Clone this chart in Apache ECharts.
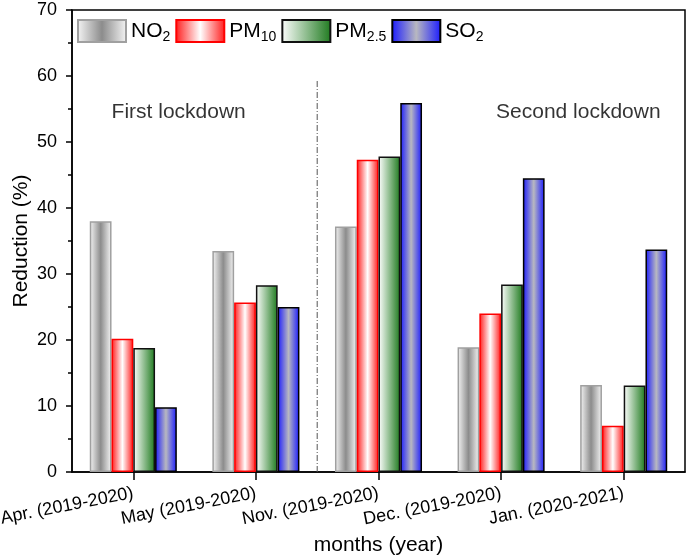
<!DOCTYPE html>
<html><head><meta charset="utf-8">
<script src="https://cdn.jsdelivr.net/npm/echarts@6/dist/echarts.min.js"></script>
<style>html,body{margin:0;padding:0;background:#fff}#c{width:696px;height:560px}</style>
</head><body><div id="c"></div>
<script>
const categories = ['Apr. (2019-2020)','May (2019-2020)','Nov. (2019-2020)','Dec. (2019-2020)','Jan. (2020-2021)'];
const no2 = [38.0, 33.5, 37.2, 18.9, 13.2];
const pm10 = [20.2, 25.7, 47.3, 24.0, 7.0];
const pm25 = [18.8, 28.3, 47.8, 28.4, 13.1];
const so2 = [9.8, 25.0, 55.9, 44.5, 33.7];
const yTicks = [0,10,20,30,40,50,60,70];
const dividerLine = [[2,0],[2,59.5]];
const annotations = [{name:'First lockdown', value:[0.87,54.5]},{name:'Second lockdown', value:[4.13,54.5]}];

const font = 'Liberation Sans, Arial, sans-serif';
const G = echarts.graphic.LinearGradient;
const styles = {
  NO2: {color: new G(0,0,1,0,[{offset:0,color:'#f6f6f6'},{offset:0.5,color:'#8c8c8c'},{offset:1,color:'#f6f6f6'}]), borderColor:'#a0a0a0', borderWidth:1.5},
  PM10:{color: new G(0,0,1,0,[{offset:0,color:'#ff1a1a'},{offset:0.5,color:'#ffffff'},{offset:1,color:'#ff1a1a'}]), borderColor:'#ff0000', borderWidth:1.5},
  PM25:{color: new G(0,0,1,0,[{offset:0,color:'#ffffff'},{offset:1,color:'#1e7a1e'}]), borderColor:'#111', borderWidth:1.5},
  SO2: {color: new G(0,0,1,0,[{offset:0,color:'#1a1aff'},{offset:0.5,color:'#b8b8c0'},{offset:1,color:'#1a1aff'}]), borderColor:'#000', borderWidth:1.5}
};
const rich = {sub:{fontSize:14, verticalAlign:'bottom', padding:[13,0,0,0], fontFamily:font, color:'#000'}};
const names = {NO2:'NO{sub|2}', PM10:'PM{sub|10}', PM25:'PM{sub|2.5}', SO2:'SO{sub|2}'};

const chart = echarts.init(document.getElementById('c'), null, {renderer:'canvas'});
function bar(key, data){
  return {name:key, type:'bar', data:data, barGap:'0%', barCategoryGap:'29%', itemStyle:styles[key], emphasis:{disabled:true}};
}
chart.setOption({
  animation:false,
  textStyle:{fontFamily:font},
  grid:{left:72, right:11, top:10, bottom:88, containLabel:false, outerBoundsMode:'none',
    show:true, borderColor:'#000', borderWidth:1.5, backgroundColor:'transparent'},
  legend:{left:72, top:14, icon:'rect', itemWidth:48, itemHeight:22, itemGap:5, data:['NO2','PM10','PM25','SO2'],
    formatter:n=>names[n], textStyle:{fontSize:21, color:'#000', fontFamily:font, rich:rich}},
  xAxis:[{type:'category', data:categories, axisLine:{show:true, lineStyle:{color:'#000', width:1.5}},
    axisTick:{show:true, alignWithLabel:true, inside:false, length:8, lineStyle:{color:'#000', width:1.5}},
    axisLabel:{rotate:11, fontSize:18, color:'#000', margin:21, fontFamily:font, interval:0},
    name:'months (year)', nameLocation:'middle', nameGap:63, nameMoveOverlap:false, nameTextStyle:{fontSize:21, color:'#000', fontFamily:font}},
   {type:'value', min:0, max:5, show:false}],
  yAxis:{type:'value', min:0, max:70, interval:10,
    axisLine:{show:true, lineStyle:{color:'#000', width:1.5}},
    axisTick:{show:true, length:6, lineStyle:{color:'#000', width:1.5}},
    minorTick:{show:true, splitNumber:2, length:4, lineStyle:{color:'#000', width:1.5}},
    splitLine:{show:false},
    axisLabel:{fontSize:18, color:'#000', margin:15, fontFamily:font, formatter:v=>yTicks.includes(v)?String(v):''},
    name:'Reduction (%)', nameLocation:'middle', nameGap:40, nameMoveOverlap:false, nameTextStyle:{fontSize:21, color:'#000', fontFamily:font}},
  series:[bar('NO2',no2), bar('PM10',pm10), bar('PM25',pm25), bar('SO2',so2),
    {type:'line', xAxisIndex:1, data:dividerLine, symbol:'none', silent:true,
     lineStyle:{color:'#555', width:1, type:[6,2,1,2]}},
    {type:'scatter', xAxisIndex:1, data:annotations, symbolSize:0, silent:true,
     label:{show:true, position:'inside', formatter:p=>p.name, fontSize:21, color:'#000', fontFamily:font}}]
});
</script></body></html>
